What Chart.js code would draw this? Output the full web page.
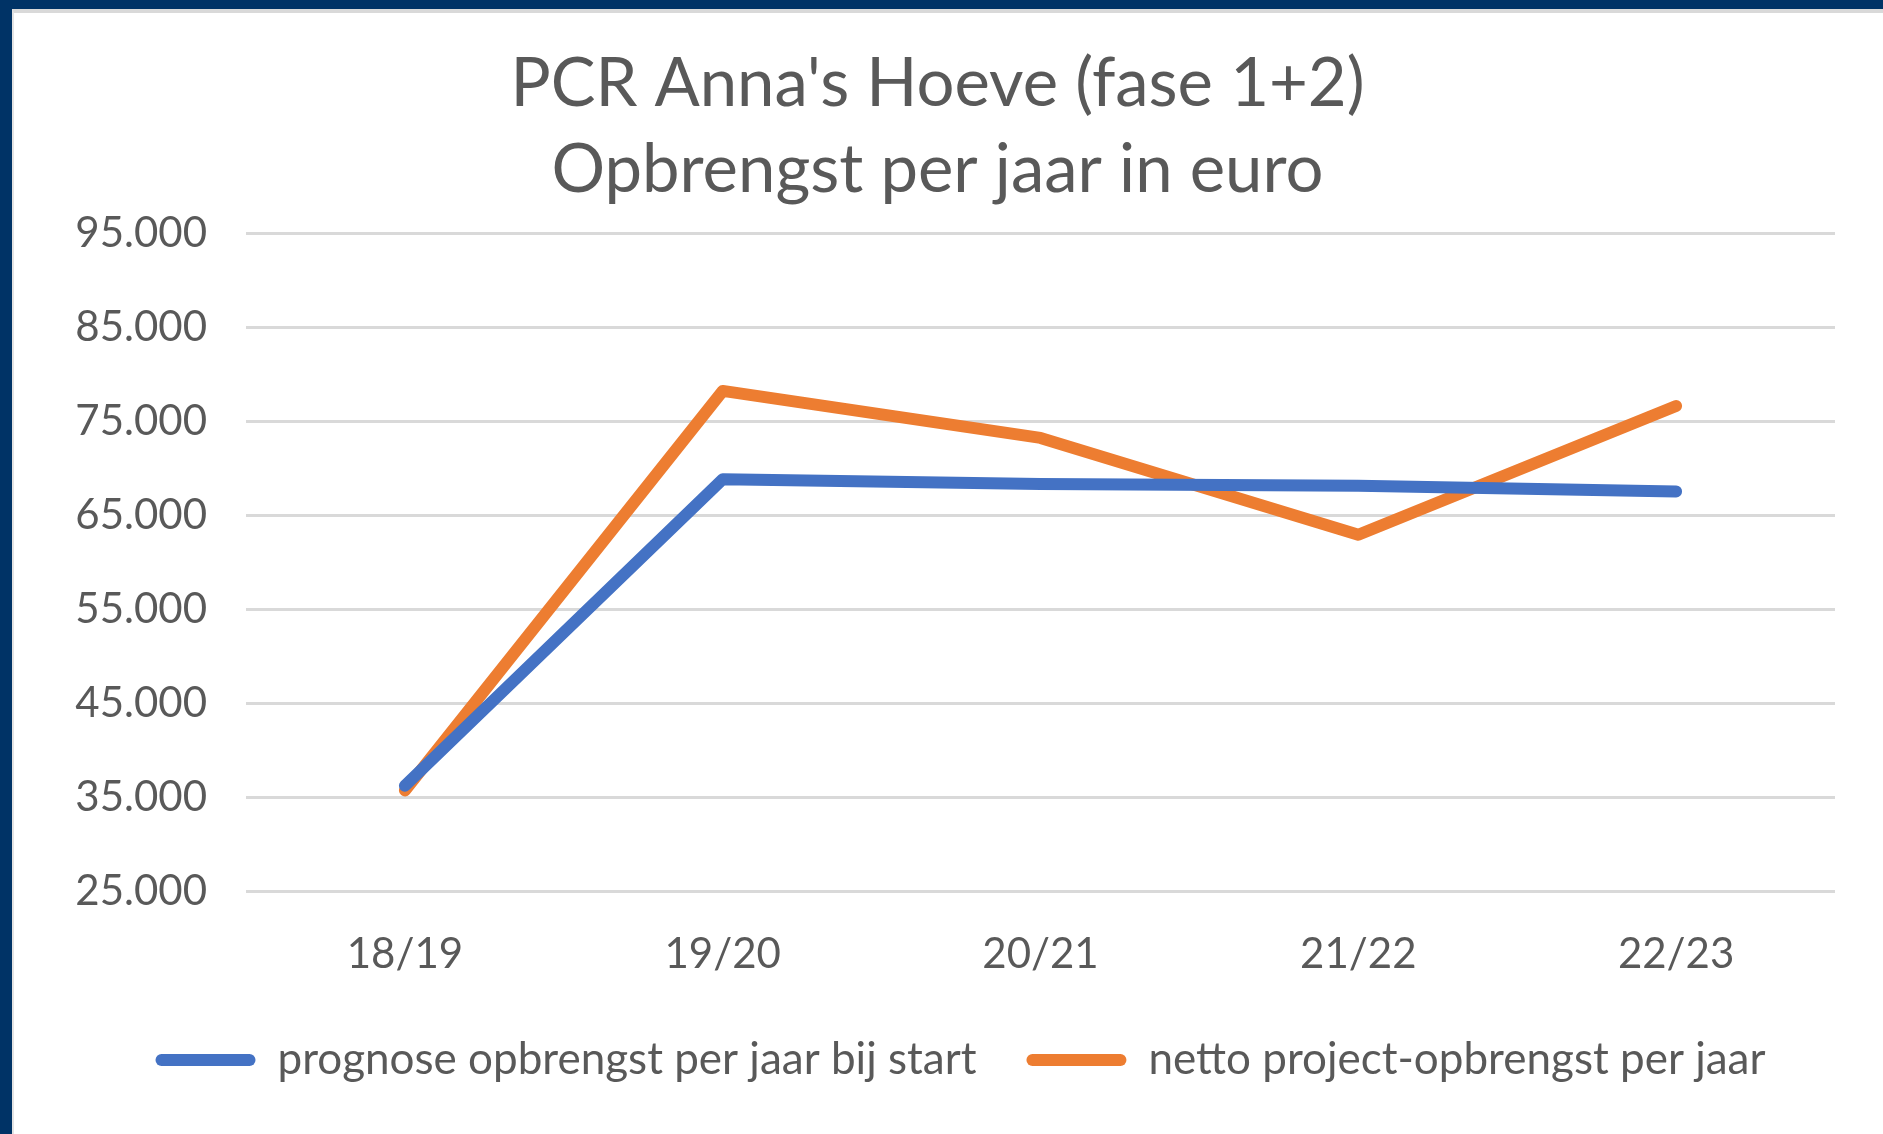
<!DOCTYPE html>
<html>
<head>
<meta charset="utf-8">
<script src="https://cdn.jsdelivr.net/npm/chart.js@4.4.1/dist/chart.umd.min.js"></script>
<style>
  html, body { margin: 0; padding: 0; }
  body { width: 1883px; height: 1134px; background: #003366; overflow: hidden; position: relative; }
  #frame {
    position: absolute; left: 12px; top: 9px; width: 1871px; height: 1125px;
    background: #ffffff; box-sizing: border-box;
    border-top: 4px solid #d9d9d9; border-left: 2px solid #e3e3e3;
  }
  #chart { position: absolute; left: -2px; top: -4px; }
</style>
</head>
<body>
<div id="frame"><canvas id="chart" width="1871" height="1125"></canvas></div>
<script>
// data
const seasons = ['18/19', '19/20', '20/21', '21/22', '22/23'];
const prognose = [36200, 68800, 68300, 68100, 67500];
const netto = [35700, 78200, 73200, 62900, 76600];
const seriesNames = ['prognose opbrengst per jaar bij start', 'netto project-opbrengst per jaar'];
const titleLines = ["PCR Anna's Hoeve (fase 1+2)", 'Opbrengst per jaar in euro'];
const yMin = 25000, yMax = 95000, yStep = 10000;

const textGrey = '#595959';
const fontFamily = 'Lato, "Noto Sans", sans-serif';

// the excel legend sits a little right of the title's centre
const legendNudge = {
    id: 'legendNudge',
    afterLayout: function (chart) {
        chart.legend.left += 23;
        chart.legend.right += 23;
    }
};

const ctx = document.getElementById('chart').getContext('2d');

const chart = new Chart(ctx, {
    type: 'line',
    data: {
        labels: seasons,
        datasets: [{
            label: seriesNames[0],
            data: prognose,
            borderColor: '#4472c4',
            backgroundColor: '#4472c4',
            borderWidth: 12,
            pointRadius: 0,
            borderCapStyle: 'round',
            borderJoinStyle: 'round',
            tension: 0
        }, {
            label: seriesNames[1],
            data: netto,
            borderColor: '#ed7d31',
            backgroundColor: '#ed7d31',
            borderWidth: 12,
            pointRadius: 0,
            borderCapStyle: 'round',
            borderJoinStyle: 'round',
            tension: 0
        }]
    },
    options: {
        responsive: false,
        animation: false,
        layout: {
            padding: { left: 28, right: 48, top: 0, bottom: 42 }
        },
        plugins: {
            title: {
                display: true,
                text: titleLines,
                color: textGrey,
                font: { family: fontFamily, size: 67, weight: 'normal', lineHeight: 86.5 / 67 },
                padding: { top: 32, bottom: 19 }
            },
            legend: {
                position: 'bottom',
                labels: {
                    color: textGrey,
                    font: { family: fontFamily, size: 44 },
                    boxWidth: 100,
                    boxHeight: 12,
                    useBorderRadius: true,
                    borderRadius: 6,
                    padding: 50,
                    generateLabels: function (chart) {
                        const items = Chart.defaults.plugins.legend.labels.generateLabels(chart);
                        items.forEach(function (item) {
                            item.lineWidth = 0;
                        });
                        return items;
                    }
                }
            },
            tooltip: { enabled: false }
        },
        scales: {
            x: {
                offset: true,
                grid: { display: false, drawTicks: false },
                border: { display: false },
                ticks: {
                    color: textGrey,
                    font: { family: fontFamily, size: 42 },
                    padding: 38
                },
                afterFit: function (scale) { scale.height = 97; }
            },
            y: {
                min: yMin,
                max: yMax,
                grid: { color: '#d9d9d9', lineWidth: 3, drawTicks: false },
                border: { display: false },
                ticks: {
                    stepSize: yStep,
                    color: textGrey,
                    font: { family: fontFamily, size: 42 },
                    padding: 39,
                    callback: function (value) {
                        return value.toLocaleString('nl-NL');
                    }
                },
                afterFit: function (scale) { scale.width = 206; }
            }
        }
    },
    plugins: [legendNudge]
});
</script>
</body>
</html>
